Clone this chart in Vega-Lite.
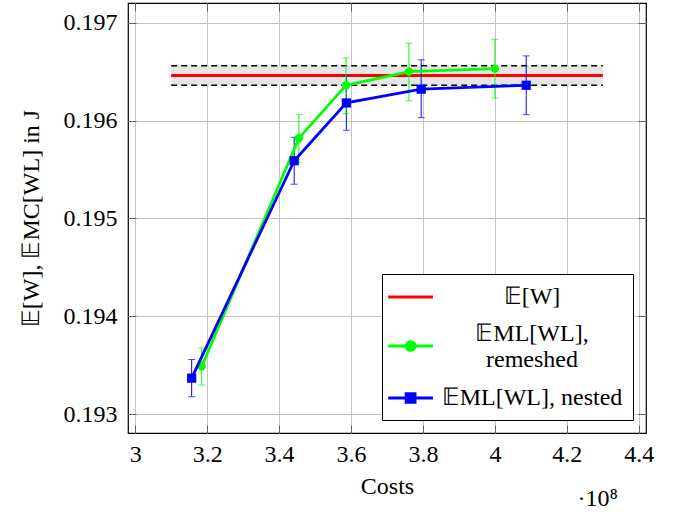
{
  "$schema": "https://vega.github.io/schema/vega-lite/v6.json",
  "width": 518,
  "height": 430,
  "autosize": "none",
  "padding": {"left": 128, "top": 3, "right": 34, "bottom": 79},
  "background": "white",
  "config": {
    "font": "Liberation Serif",
    "view": {"stroke": "black", "strokeWidth": 1.2},
    "axis": {
      "labelFont": "Liberation Serif",
      "titleFont": "Liberation Serif",
      "labelFontSize": 24,
      "titleFontSize": 24,
      "labelColor": "black",
      "titleColor": "black",
      "titleFontWeight": "normal",
      "gridColor": "#c4c4c4",
      "gridWidth": 1,
      "domain": false,
      "tickColor": "#606060",
      "tickWidth": 1
    }
  },
  "title": {
    "text": "·10⁸",
    "orient": "bottom",
    "anchor": "end",
    "font": "Liberation Serif",
    "fontSize": 24,
    "fontWeight": "normal",
    "color": "black",
    "offset": -11,
    "dx": -36
  },
  "datasets": {
    "pts": [
      {"series": "nested", "x": 3.157, "y": 0.19337, "lo": 0.19318, "hi": 0.19356},
      {"series": "nested", "x": 3.442, "y": 0.19559, "lo": 0.19535, "hi": 0.19583},
      {"series": "nested", "x": 3.587, "y": 0.19618, "lo": 0.19590, "hi": 0.19646},
      {"series": "nested", "x": 3.795, "y": 0.19632, "lo": 0.19603, "hi": 0.19662},
      {"series": "nested", "x": 4.087, "y": 0.19636, "lo": 0.19606, "hi": 0.19666},
      {"series": "remeshed", "x": 3.185, "y": 0.19349, "lo": 0.19330, "hi": 0.19368},
      {"series": "remeshed", "x": 3.455, "y": 0.19582, "lo": 0.19557, "hi": 0.19606},
      {"series": "remeshed", "x": 3.586, "y": 0.19636, "lo": 0.19607, "hi": 0.19664},
      {"series": "remeshed", "x": 3.761, "y": 0.19650, "lo": 0.19620, "hi": 0.19679},
      {"series": "remeshed", "x": 4.000, "y": 0.19653, "lo": 0.19623, "hi": 0.19683}
    ],
    "ref": [
      {"x1": 3.1, "x2": 4.3, "m": 0.19646, "lo": 0.19636, "hi": 0.19656}
    ]
  },
  "layer": [
    {
      "data": {"name": "ref"},
      "mark": {"type": "rect", "color": "#e6e6e6"},
      "encoding": {
        "x": {
          "field": "x1", "type": "quantitative",
          "scale": {"domain": [2.98, 4.42], "nice": false, "zero": false},
          "axis": {
            "orient": "bottom",
            "values": [3, 3.2, 3.4, 3.6, 3.8, 4, 4.2, 4.4],
            "labelExpr": "format(datum.value, '.1~f')",
            "labelFont": "Liberation Serif",
            "labelFontSize": 24,
            "grid": true,
            "ticks": true,
            "tickSize": 8,
            "offset": -8,
            "labelPadding": 9,
            "title": "Costs",
            "titlePadding": 8
          }
        },
        "x2": {"field": "x2"},
        "y": {
          "field": "lo", "type": "quantitative",
          "scale": {"domain": [0.19281, 0.1972], "nice": false, "zero": false},
          "axis": {
            "orient": "left",
            "values": [0.193, 0.194, 0.195, 0.196, 0.197],
            "format": ".3f",
            "labelFont": "Liberation Serif",
            "labelFontSize": 24,
            "grid": true,
            "ticks": true,
            "tickSize": 8,
            "offset": -8,
            "labelPadding": 11,
            "title": "𝔼[W], 𝔼MC[WL] in J",
            "titlePadding": 20
          }
        },
        "y2": {"field": "hi"}
      }
    },
    {
      "data": {"name": "ref"},
      "mark": {"type": "rule", "color": "black", "strokeWidth": 1.5, "strokeDash": [6, 4]},
      "encoding": {
        "x": {
          "field": "x1", "type": "quantitative",
          "axis": {"orient": "top", "values": [3, 3.2, 3.4, 3.6, 3.8, 4, 4.2, 4.4], "labels": false, "grid": false, "ticks": true, "tickSize": 8, "offset": -8, "title": null}
        },
        "x2": {"field": "x2"},
        "y": {
          "field": "lo", "type": "quantitative",
          "axis": {"orient": "right", "values": [0.193, 0.194, 0.195, 0.196, 0.197], "labels": false, "grid": false, "ticks": true, "tickSize": 8, "offset": -8, "title": null}
        }
      }
    },
    {
      "data": {"name": "ref"},
      "mark": {"type": "rule", "color": "black", "strokeWidth": 1.5, "strokeDash": [6, 4]},
      "encoding": {
        "x": {"field": "x1", "type": "quantitative", "axis": null},
        "x2": {"field": "x2"},
        "y": {"field": "hi", "type": "quantitative", "axis": null}
      }
    },
    {
      "data": {"name": "ref"},
      "mark": {"type": "rule", "color": "#ff0000", "strokeWidth": 2.8},
      "encoding": {
        "x": {"field": "x1", "type": "quantitative", "axis": null},
        "x2": {"field": "x2"},
        "y": {"field": "m", "type": "quantitative", "axis": null}
      }
    },
    {
      "data": {"name": "pts"},
      "mark": {"type": "errorbar", "ticks": {"size": 7, "strokeWidth": 1}, "rule": {"strokeWidth": 1}},
      "encoding": {
        "x": {"field": "x", "type": "quantitative", "axis": null},
        "y": {"field": "lo", "type": "quantitative", "axis": null},
        "y2": {"field": "hi"},
        "color": {
          "field": "series", "type": "nominal",
          "scale": {"domain": ["E", "remeshed", "nested"], "range": ["#ff0000", "#00ff00", "#0000ff"]},
          "legend": {
            "title": null,
            "orient": "bottom-right",
            "offset": 13,
            "strokeColor": "black",
            "fillColor": "white",
            "padding": 10,
            "labelFont": "Liberation Serif",
            "labelFontSize": 24,
            "labelColor": "black",
            "labelLimit": 0,
            "labelAlign": "center",
            "labelOffset": 114,
            "symbolType": "stroke",
            "symbolSize": 500,
            "symbolStrokeWidth": 2.8,
            "symbolOpacity": 1,
            "rowPadding": 13,
            "labelExpr": "datum.value == 'E' ? '𝔼[W]' : datum.value == 'remeshed' ? ['𝔼ML[WL],', 'remeshed'] : '𝔼ML[WL], nested'",
            "encode": {
              "labels": {
                "update": {
                  "dy": {"signal": "datum.value == 'remeshed' ? -12 : 0"}
                }
              },
              "symbols": {
                "update": {
                  "shape": {"signal": "datum.value == 'remeshed' ? 'M-1.5,0H2.5M0.1,0A0.4,0.4,0,1,0,0.9,0A0.4,0.4,0,1,0,0.1,0Z' : datum.value == 'nested' ? 'M-1.5,0H2.5M0.1,-0.4H0.9V0.4H0.1Z' : 'M-1.5,0H2.5'"},
                  "stroke": {"scale": "color", "field": "value"},
                  "fill": {"scale": "color", "field": "value"},
                  "strokeWidth": {"value": 2.8},
                  "opacity": {"value": 1}
                }
              }
            }
          }
        }
      }
    },
    {
      "data": {"name": "pts"},
      "transform": [{"filter": "datum.series == 'remeshed'"}],
      "mark": {"type": "line", "strokeWidth": 2.8},
      "encoding": {
        "x": {"field": "x", "type": "quantitative", "axis": null},
        "y": {"field": "y", "type": "quantitative", "axis": null},
        "color": {"field": "series", "type": "nominal"}
      }
    },
    {
      "data": {"name": "pts"},
      "transform": [{"filter": "datum.series == 'remeshed'"}],
      "mark": {"type": "point", "shape": "circle", "filled": true, "size": 70, "opacity": 1},
      "encoding": {
        "x": {"field": "x", "type": "quantitative", "axis": null},
        "y": {"field": "y", "type": "quantitative", "axis": null},
        "color": {"field": "series", "type": "nominal"}
      }
    },
    {
      "data": {"name": "pts"},
      "transform": [{"filter": "datum.series == 'nested'"}],
      "mark": {"type": "line", "strokeWidth": 2.8},
      "encoding": {
        "x": {"field": "x", "type": "quantitative", "axis": null},
        "y": {"field": "y", "type": "quantitative", "axis": null},
        "color": {"field": "series", "type": "nominal"}
      }
    },
    {
      "data": {"name": "pts"},
      "transform": [{"filter": "datum.series == 'nested'"}],
      "mark": {"type": "point", "shape": "square", "filled": true, "size": 85, "opacity": 1},
      "encoding": {
        "x": {"field": "x", "type": "quantitative", "axis": null},
        "y": {"field": "y", "type": "quantitative", "axis": null},
        "color": {"field": "series", "type": "nominal"}
      }
    }
  ],
  "resolve": {"axis": {"x": "independent", "y": "independent"}}
}
